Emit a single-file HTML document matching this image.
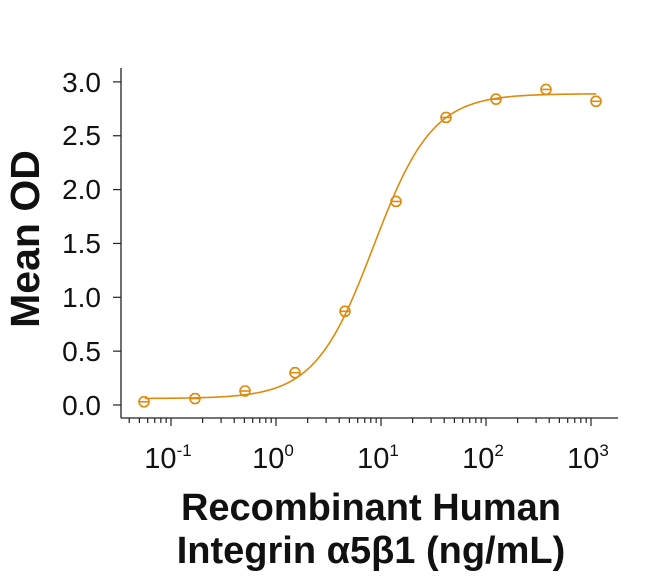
<!DOCTYPE html>
<html><head><style>
body{margin:0;background:#fff;width:650px;height:577px;overflow:hidden}
svg text{font-family:"Liberation Sans",sans-serif;fill:#111}
</style></head><body>
<svg id="s" width="650" height="577" xmlns="http://www.w3.org/2000/svg">
<g stroke="#222" stroke-width="1.3" fill="none">
<line x1="121" y1="68" x2="121" y2="418"/>
<line x1="121" y1="418" x2="618" y2="418"/>
</g>
<g id="ticks" stroke="#222" stroke-width="1.2"></g>
<g font-size="28" text-anchor="end">
<text x="101" y="415">0.0</text>
<text x="101" y="361">0.5</text>
<text x="101" y="307">1.0</text>
<text x="101" y="253">1.5</text>
<text x="101" y="199">2.0</text>
<text x="101" y="145">2.5</text>
<text x="101" y="92">3.0</text>
</g>
<g font-size="29" text-anchor="middle">
<text x="168" y="468">10<tspan font-size="17" dy="-12">-1</tspan></text>
<text x="273" y="468">10<tspan font-size="17" dy="-12">0</tspan></text>
<text x="378" y="468">10<tspan font-size="17" dy="-12">1</tspan></text>
<text x="483" y="468">10<tspan font-size="17" dy="-12">2</tspan></text>
<text x="588" y="468">10<tspan font-size="17" dy="-12">3</tspan></text>
</g>
<text transform="translate(39,239) rotate(-90)" font-size="41" font-weight="bold" text-anchor="middle">Mean OD</text>
<text x="371" y="520" font-size="38" font-weight="bold" text-anchor="middle">Recombinant Human</text>
<text x="371" y="563" font-size="38" font-weight="bold" text-anchor="middle">Integrin α5β1 (ng/mL)</text>
<path id="curve" fill="none" stroke="#E08A0B" stroke-width="1.6"/>
<g id="pts" fill="none" stroke="#E08A0B" stroke-width="1.6"></g>
</svg>
<script>
var X=function(c){return 276+105*Math.log10(c)}, Y=function(v){return 405-107.7*v};
var t=document.getElementById('ticks'),h='';
for(var y=0;y<=3;y+=0.5)h+='<line x1="113" y1="'+Y(y)+'" x2="121" y2="'+Y(y)+'"/>';
for(var e=-2;e<=3;e++)for(var k=1;k<10;k++){var x=X(k*Math.pow(10,e));if(x<122||x>618)continue;h+='<line x1="'+x+'" y1="418" x2="'+x+'" y2="'+(k==1?426:423)+'"/>';}
t.innerHTML=h;
var f=function(c){return 0.06+(2.89-0.06)/(1+Math.pow(8.5/c,1.55))};
var d='';for(var i=0;i<=300;i++){var lc=-1.25+i*(4.3/300),c=Math.pow(10,lc);d+=(i?'L':'M')+X(c).toFixed(2)+','+Y(f(c)).toFixed(2);}
document.getElementById('curve').setAttribute('d',d);
var xs=[144,195,245,295,345,396,446,496,546,596],vs=[0.03,0.06,0.13,0.30,0.87,1.89,2.67,2.84,2.93,2.82],p='';
for(i=0;i<10;i++){var yy=Y(vs[i]),x0=xs[i];p+='<circle cx="'+x0+'" cy="'+yy+'" r="5"/><line x1="'+(x0-5)+'" y1="'+yy+'" x2="'+(x0+5)+'" y2="'+yy+'"/><line x1="'+(x0-3)+'" y1="'+(yy-5)+'" x2="'+(x0+3)+'" y2="'+(yy-5)+'" stroke-width="1"/><line x1="'+(x0-3)+'" y1="'+(yy+5)+'" x2="'+(x0+3)+'" y2="'+(yy+5)+'" stroke-width="1"/>';}
document.getElementById('pts').innerHTML=p;
</script>
</body></html>
